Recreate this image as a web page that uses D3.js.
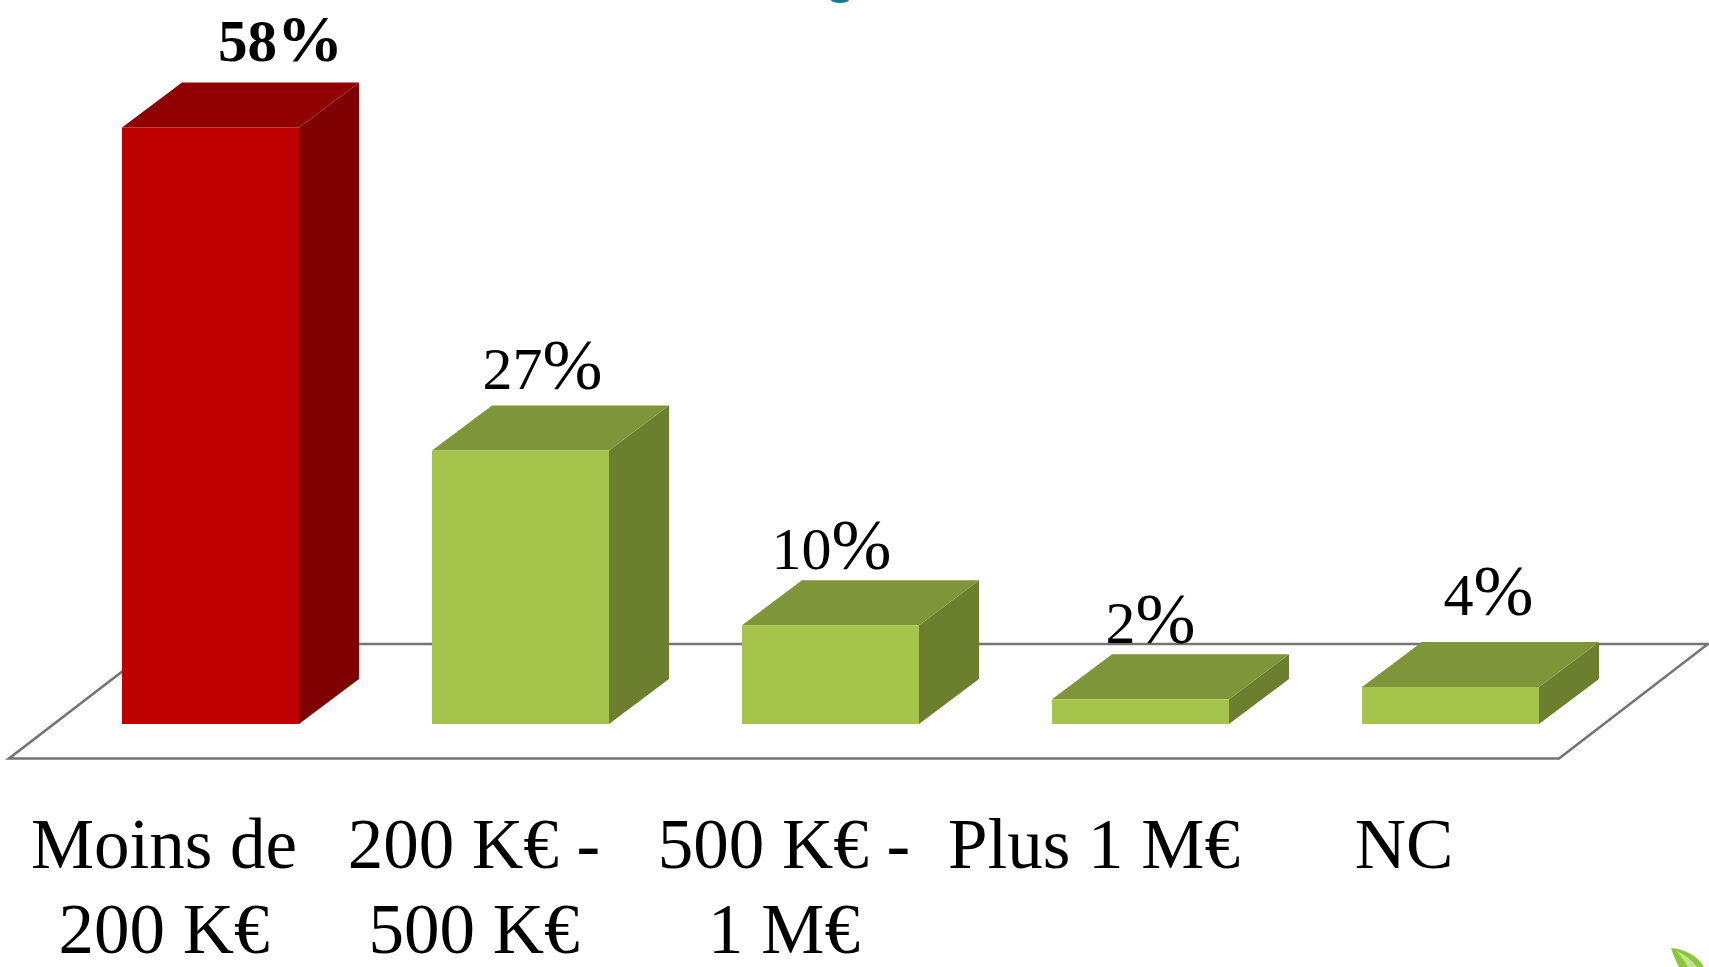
<!DOCTYPE html>
<html><head><meta charset="utf-8">
<style>html,body{margin:0;padding:0;background:#fff;overflow:hidden}svg{display:block}</style>
<script src="https://cdn.jsdelivr.net/npm/d3@7"></script></head>
<body><script>
const categories = [["Moins de","200 K€"],["200 K€ -","500 K€"],["500 K€ -","1 M€"],["Plus 1 M€"],["NC"]];
const values = [58, 26.6, 9.6, 2.4, 3.6];
const highlighted = [true, false, false, false, false];
const labelShiftX = [70, 22, 1, 10, 38];
const labelShiftY = [-22, -16, -11, -11, -27];

const W = 1709, H = 967, font = "'Liberation Serif', serif";
const floorL = 9, floorR = 1559, floorFront = 758.5, floorBack = 644, base = 724;
const floorDx = 149, depthX = 60, depthY = 45, barShift = 46.5;
const svg = d3.select("body").append("svg").attr("width", W).attr("height", H);
const x = d3.scaleBand().domain(d3.range(values.length)).range([floorL, floorR]).paddingInner(0.429).paddingOuter(0.2145);
const y = d3.scaleLinear().domain([0, 58]).range([base, 127.5]);
const colors = { red:{front:"#BE0000",top:"#900000",side:"#7E0000"}, green:{front:"#A6C44C",top:"#7F953A",side:"#6B7F2E"} };

svg.append("path").attr("d", d3.line()([[floorL,floorFront],[floorR,floorFront],[floorR+floorDx,floorBack],[floorL+floorDx,floorBack]]) + "Z")
  .attr("fill","#fff").attr("stroke","#747474").attr("stroke-width",2.6);

const bars = svg.selectAll("g.bar").data(values).join("g").attr("class","bar");
const c = (i) => highlighted[i] ? colors.red : colors.green;
const bx = (i) => x(i) + barShift, bw = x.bandwidth();
bars.append("path").attr("fill",(d,i)=>c(i).side)
  .attr("d",(d,i)=>d3.line()([[bx(i)+bw,y(d)],[bx(i)+bw+depthX,y(d)-depthY],[bx(i)+bw+depthX,base-depthY],[bx(i)+bw,base]])+"Z");
bars.append("path").attr("fill",(d,i)=>c(i).top)
  .attr("d",(d,i)=>d3.line()([[bx(i),y(d)],[bx(i)+depthX,y(d)-depthY],[bx(i)+bw+depthX,y(d)-depthY],[bx(i)+bw,y(d)]])+"Z");
bars.append("rect").attr("fill",(d,i)=>c(i).front).attr("x",(d,i)=>bx(i)).attr("y",d=>y(d)).attr("width",bw).attr("height",d=>base-y(d));

const vals = svg.selectAll("text.val").data(values).join("text").attr("class","val")
  .attr("x",(d,i)=>bx(i)+bw/2+labelShiftX[i]).attr("y",(d,i)=>y(d)-depthY+labelShiftY[i])
  .attr("text-anchor","middle").attr("font-family",font)
  .attr("font-weight",(d,i)=>highlighted[i]?"bold":"normal");
vals.append("tspan").attr("font-size",(d,i)=>highlighted[i]?59:60).text(d=>Math.round(d));
vals.append("tspan").attr("font-size",(d,i)=>highlighted[i]?66:72).text("%");

const axis = d3.axisBottom(x).tickSize(0).tickFormat("");
const gx = svg.append("g").attr("transform",`translate(0,${floorFront})`).call(axis);
gx.select(".domain").remove();
gx.selectAll(".tick").each(function(d){
  const t = d3.select(this).select("text").attr("y",0).attr("dy",null).attr("font-family",font).attr("font-size",71).attr("fill","#000").attr("text-anchor","middle");
  t.selectAll("tspan").data(categories[d]).join("tspan").attr("x",0).attr("y",(s,j)=>109+j*85).text(s=>s);
});

// cropped decorations at the picture's edges
svg.append("ellipse").attr("cx",840).attr("cy",0).attr("rx",9).attr("ry",3).attr("fill","#1B7A91");
svg.append("path").attr("d","M1671 948C1684 949 1697 955 1704 967L1679 967C1676 961 1673 955 1671 948Z").attr("fill","#8CC63F");
svg.append("path").attr("d","M1676 951C1684 954 1692 960 1697 967L1688 967C1685 961 1681 956 1676 951Z").attr("fill","#C5E38A");
</script></body></html>
